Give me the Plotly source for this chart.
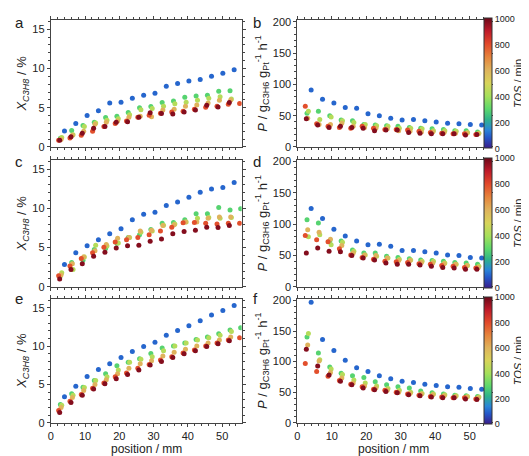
import plotly.graph_objects as go

# ---------------- data ----------------
TOS = [100, 290, 430, 600, 790, 970]  # min, one per series

pos_blue   = [4.0, 7.3, 10.6, 13.9, 17.2, 20.5, 23.8, 27.1, 30.4, 33.7, 37.0, 40.3, 43.6, 46.9, 50.2, 53.5]
pos_green  = [2.8, 6.1, 9.4, 12.7, 16.0, 19.3, 22.6, 25.9, 29.2, 32.5, 35.8, 39.1, 42.4, 45.7, 49.0, 52.3, 55.4]
pos_yg     = [3.2, 6.5, 9.8, 13.1, 16.4, 19.7, 23.0, 26.3, 29.6, 32.9, 36.2, 39.5, 42.8, 46.1, 49.4, 52.7]
pos_tan    = [3.0, 6.3, 9.6, 12.9, 16.2, 19.5, 22.8, 26.1, 29.4, 32.7, 36.0, 39.3, 42.6, 45.9, 49.2, 52.5]
pos_red    = [2.3, 5.6, 8.9, 12.2, 15.5, 18.8, 22.1, 25.4, 28.7, 32.0, 35.3, 38.6, 41.9, 45.2, 48.5, 51.8, 55.1]
pos_maroon = [2.6, 5.9, 9.2, 12.5, 15.8, 19.1, 22.4, 25.7, 29.0, 32.3, 35.6, 38.9, 42.2, 45.5, 48.8, 52.1]
POSITIONS = [pos_blue, pos_green, pos_yg, pos_tan, pos_red, pos_maroon]

# panel a: conversion X_C3H8 / %
a_X = [
    [2.05, 3.0, 4.0, 4.6, 5.6, 5.7, 6.2, 6.6, 6.85, 7.75, 8.1, 8.4, 8.6, 9.0, 9.4, 9.85],
    [1.1, 2.1, 2.75, 3.15, 3.75, 3.9, 4.4, 5.0, 5.15, 5.65, 5.85, 6.35, 6.5, 6.6, 7.1, 7.15],
    [1.2, 1.55, 2.6, 3.05, 3.4, 3.6, 4.1, 4.75, 4.9, 5.2, 5.5, 5.7, 5.95, 6.2, 6.4, 6.1],
    [0.95, 1.5, 2.0, 2.9, 3.15, 3.3, 3.8, 3.9, 3.85, 4.7, 4.8, 5.2, 5.35, 5.6, 5.95, 6.0],
    [0.85, 1.15, 1.5, 2.0, 2.6, 3.0, 3.3, 3.8, 4.05, 4.3, 4.45, 4.55, 4.8, 5.05, 5.2, 5.45, 5.55],
    [0.85, 1.3, 1.75, 2.4, 2.6, 3.15, 3.2, 3.8, 4.35, 4.25, 4.2, 4.45, 4.7, 5.3, 5.1, 5.65],
]
# panel b: productivity P
b_P = [
    [91, 76, 70, 63, 62, 53, 50, 46, 43, 44, 42, 40, 38, 37, 36, 35],
    [54, 57, 50, 43, 42, 36, 35, 34, 33, 31, 30, 29, 28, 26, 26, 24, 23],
    [57, 44, 48, 42, 39, 36, 34, 33, 30, 30, 29, 26, 26, 25, 23, 22],
    [46, 36, 36, 38, 33, 31, 30, 29, 26, 25, 24, 24, 23, 22, 22, 21],
    [65, 37, 33, 31, 30, 33, 30, 28, 28, 27, 25, 23, 22, 21, 21, 20, 19],
    [45, 35, 31, 33, 31, 30, 26, 27, 27, 23, 22, 21, 21, 21, 19, 20],
]
# panel c
c_X = [
    [2.85, 4.35, 5.25, 6.0, 6.75, 7.4, 8.55, 9.25, 9.5, 10.35, 10.8, 11.4, 12.05, 12.45, 12.65, 13.3],
    [1.4, 3.1, 3.4, 4.75, 4.9, 5.55, 6.3, 6.65, 7.3, 8.1, 8.2, 8.55, 9.3, 9.3, 10.1, 9.8, 9.95],
    [1.8, 2.2, 3.8, 5.3, 5.2, 5.6, 6.3, 6.95, 7.1, 7.85, 8.0, 8.25, 8.75, 8.85, 8.75, 8.85],
    [1.5, 2.95, 3.8, 4.6, 5.4, 6.2, 6.3, 7.1, 7.2, 7.8, 7.9, 8.25, 8.25, 8.75, 8.9, 8.9],
    [1.4, 2.65, 3.6, 4.35, 5.05, 5.7, 6.0, 6.3, 6.65, 7.1, 7.6, 8.15, 8.2, 8.1, 8.0, 8.1, 8.1],
    [1.0, 2.2, 2.95, 3.9, 4.4, 4.95, 5.25, 5.3, 5.8, 6.1, 6.75, 7.05, 7.2, 7.6, 7.55, 7.8],
]
# panel d
d_P = [
    [125, 109, 92, 81, 73, 67, 68, 65, 58, 58, 56, 54, 51, 50, 47, 46],
    [107, 102, 73, 73, 59, 54, 54, 49, 47, 45, 43, 42, 41, 39, 38, 36, 34],
    [80, 83, 67, 71, 57, 51, 49, 46, 44, 43, 41, 41, 38, 36, 34, 33],
    [91, 87, 76, 66, 54, 51, 50, 46, 42, 42, 39, 38, 37, 36, 34, 31],
    [82, 75, 72, 61, 51, 47, 44, 41, 40, 39, 37, 36, 34, 33, 31, 30, 29],
    [54, 62, 57, 56, 50, 46, 43, 38, 36, 36, 35, 33, 31, 30, 28, 28],
]
# panel e
e_X = [
    [3.4, 4.75, 6.05, 6.95, 7.7, 8.5, 9.3, 9.95, 10.5, 11.4, 12.05, 12.65, 13.3, 14.05, 14.65, 15.3],
    [2.4, 3.8, 4.65, 5.5, 6.4, 7.45, 7.9, 8.35, 9.05, 9.75, 10.0, 10.4, 10.85, 11.2, 11.6, 12.1, 12.4],
    [2.3, 3.6, 4.6, 5.5, 6.0, 6.9, 7.9, 8.3, 8.6, 9.4, 10.0, 10.4, 10.8, 11.1, 11.4, 11.9],
    [2.0, 3.3, 4.2, 5.0, 5.6, 6.4, 7.1, 7.7, 8.1, 8.7, 9.2, 9.6, 10.0, 10.4, 10.8, 11.2],
    [1.6, 2.8, 3.7, 4.5, 5.2, 6.0, 6.5, 7.1, 7.6, 8.2, 8.6, 9.1, 9.5, 10.0, 10.4, 10.8, 11.1],
    [1.35, 2.65, 3.6, 4.4, 5.1, 5.75, 6.3, 6.9, 7.55, 8.0, 8.5, 9.0, 9.4, 9.95, 10.3, 10.7],
]
# panel f
f_P = [
    [197, 136, 118, 102, 90, 84, 77, 72, 68, 66, 63, 61, 59, 58, 56, 55],
    [140, 114, 91, 81, 77, 74, 67, 62, 59, 57, 52, 49, 47, 45, 44, 43, 42],
    [146, 103, 88, 79, 70, 65, 60, 56, 53, 50, 48, 47, 46, 44, 43, 42],
    [127, 101, 82, 73, 65, 60, 57, 53, 50, 48, 47, 46, 44, 43, 42, 41],
    [97, 84, 76, 69, 63, 59, 55, 53, 50, 47, 45, 43, 42, 41, 41, 39, 38],
    [120, 93, 78, 68, 62, 57, 54, 51, 49, 46, 44, 42, 41, 41, 39, 38],
]

PANELS = [a_X, b_P, c_X, d_P, e_X, f_P]
LETTERS = ["a", "b", "c", "d", "e", "f"]
TOS_TICKS = [0, 200, 400, 600, 800, 1000]

# ---------------- styling ----------------
W, H = 529, 456
FONT = "Liberation Sans, Arial, sans-serif"
INK = "#222222"
CS = [
    [0.00, "#3a1d8a"], [0.08, "#2456c8"], [0.14, "#2a86d8"], [0.22, "#2fb38a"],
    [0.30, "#5cd86c"], [0.40, "#a6e05a"], [0.50, "#d8d45a"], [0.60, "#dfb35c"],
    [0.70, "#e6843c"], [0.80, "#e2492a"], [0.90, "#bf1a2a"], [1.00, "#6a0818"],
]

XDOM = [[40 / W, 232 / W], [288 / W, 481 / W]]
ROWS = [(8, 138), (151, 281), (293, 420)]

def ydom(r):
    t, b = ROWS[r]
    return [1 - b / H, 1 - t / H]

fig = go.Figure()
layout = dict(
    width=W, height=H, margin=dict(l=0, r=0, t=0, b=0),
    paper_bgcolor="white", plot_bgcolor="white", showlegend=False,
    font=dict(family=FONT, size=11, color=INK),
)

for i, panel in enumerate(PANELS):
    r, c = divmod(i, 2)
    k = i + 1
    xa = "x" if k == 1 else f"x{k}"
    ya = "y" if k == 1 else f"y{k}"
    cax = "coloraxis" if r == 0 else f"coloraxis{r + 1}"
    for s, vals in enumerate(panel):
        xs = [p for p, _ in zip(POSITIONS[s], vals)]
        ys = [v for _, v in zip(POSITIONS[s], vals)]
        fig.add_trace(go.Scatter(
            x=xs, y=ys, mode="markers", xaxis=xa, yaxis=ya,
            marker=dict(size=5, color=[TOS[s]] * len(xs), coloraxis=cax, line=dict(width=0)),
            hoverinfo="skip",
        ))
    axcommon = dict(showline=True, linecolor="#444", linewidth=1, mirror="allticks",
                    ticks="outside", ticklen=3, tickcolor="#444", showgrid=False, zeroline=False,
                    tickfont=dict(size=11, family=FONT, color=INK))
    xkey = "xaxis" if k == 1 else f"xaxis{k}"
    ykey = "yaxis" if k == 1 else f"yaxis{k}"
    layout[xkey] = dict(axcommon, domain=XDOM[c], anchor=ya, range=[0, 55.7], dtick=10,
                        showticklabels=(r == 2),
                        minor=dict(dtick=2, ticklen=2, ticks="outside", tickcolor="#444"))
    if c == 0:
        ytitle = "<i>X</i><sub><i>C3H8</i></sub> / %"
        layout[ykey] = dict(axcommon, domain=ydom(r), anchor=xa, range=[0, 16.2], dtick=5,
                            minor=dict(dtick=1, ticklen=2, ticks="outside", tickcolor="#444"),
                            title=dict(text=ytitle, standoff=2, font=dict(size=13, family=FONT, color=INK)))
    else:
        ytitle = "<i>P</i> / g<sub>C3H6</sub> g<sub>Pt</sub><sup>-1</sup> h<sup>-1</sup>"
        layout[ykey] = dict(axcommon, domain=ydom(r), anchor=xa, range=[0, 203], dtick=50,
                            minor=dict(dtick=10, ticklen=2, ticks="outside", tickcolor="#444"),
                            title=dict(text=ytitle, standoff=2, font=dict(size=13, family=FONT, color=INK)))

for r in range(3):
    key = "coloraxis" if r == 0 else f"coloraxis{r + 1}"
    yd = ydom(r)
    layout[key] = dict(
        cmin=0, cmax=1000, colorscale=CS,
        colorbar=dict(
            x=476 / W, xanchor="left", xpad=0, ypad=0,
            y=(yd[0] + yd[1]) / 2, yanchor="middle",
            len=(ROWS[r][1] - ROWS[r][0]), lenmode="pixels", thickness=8,
            outlinewidth=1, outlinecolor="#333",
            tickvals=TOS_TICKS, ticks="", ticklabelposition="outside",
            tickfont=dict(size=9, family=FONT, color=INK),
            title=dict(text="<i>TOS</i> / min", side="right", font=dict(size=11, family=FONT, color=INK)),
        ),
    )

letter_pos = [(2, 11), (241, 11), (2, 153), (241, 153), (2, 293), (241, 293)]
annotations = []
for L, (lx, ly) in zip(LETTERS, letter_pos):
    annotations.append(dict(text=L, x=lx / W, y=1 - ly / H, xref="paper", yref="paper",
                            xanchor="left", yanchor="middle", showarrow=False,
                            font=dict(size=15, family=FONT, color=INK)))
for c in range(2):
    annotations.append(dict(text="position / mm", x=(XDOM[c][0] + XDOM[c][1]) / 2, y=1 - 447 / H,
                            xref="paper", yref="paper", xanchor="center", yanchor="middle",
                            showarrow=False, font=dict(size=12, family=FONT, color=INK)))
layout["annotations"] = annotations

fig.update_layout(**layout)
fig.write_html("out.html")
